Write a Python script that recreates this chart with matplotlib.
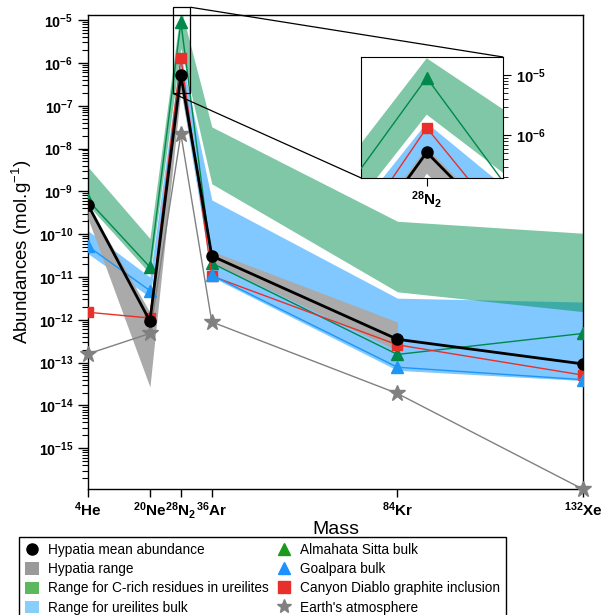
import numpy as np
import matplotlib
matplotlib.use('Agg')
import matplotlib.pyplot as plt
from matplotlib.lines import Line2D
from matplotlib.patches import Patch
from matplotlib.ticker import LogLocator, FixedLocator, FuncFormatter, NullFormatter
from mpl_toolkits.axes_grid1.inset_locator import mark_inset

plt.rcParams['font.family'] = ['Liberation Sans', 'DejaVu Sans']
plt.rcParams['mathtext.fontset'] = 'custom'
plt.rcParams['mathtext.rm'] = 'Liberation Sans'
plt.rcParams['mathtext.bf'] = 'Liberation Sans:bold'
plt.rcParams['mathtext.it'] = 'Liberation Sans:italic'

# ---------------- data ----------------
masses = [4, 20, 28, 36, 84, 132]
tick_labels = [r'$\mathbf{{}^{4}He}$', r'$\mathbf{{}^{20}Ne}$', r'$\mathbf{{}^{28}N_2}$',
               r'$\mathbf{{}^{36}Ar}$', r'$\mathbf{{}^{84}Kr}$', r'$\mathbf{{}^{132}Xe}$']

hyp_mean = [4.8e-10, 9.3e-13, 5.2e-7, 3.1e-11, 3.5e-13, 9.3e-14]
hyp_masses = [4, 20, 28, 36, 84]
hyp_hi = [4.9e-10, 1.5e-12, 6.2e-7, 4.0e-11, 8.9e-13]
hyp_lo = [2.3e-10, 2.7e-14, 2.3e-7, 2.2e-11, 1.9e-13]

crich_hi = [3.7e-9, 7.9e-11, 1.9e-5, 3.2e-8, 2.0e-10, 1.05e-10]
crich_lo = [4.8e-10, 1.2e-11, 2.2e-6, 1.5e-9, 4.5e-12, 1.55e-12]

ubulk_hi = [1.2e-10, 1.0e-11, 1.6e-6, 6.3e-10, 3.2e-12, 2.6e-12]
ubulk_lo = [3.5e-11, 3.4e-12, 2.4e-7, 1.0e-11, 6.6e-14, 3.8e-14]

almahata = [6.2e-10, 1.7e-11, 9.0e-6, 2.1e-11, 1.55e-13, 4.8e-13]
goalpara = [5.2e-11, 4.8e-12, np.nan, 1.1e-11, 7.8e-14, 4.0e-14]
canyon = [1.5e-12, 1.1e-12, 1.33e-6, 1.05e-11, 2.6e-13, 5.1e-14]
earth = [1.6e-13, 4.8e-13, 2.2e-8, 8.9e-13, 1.9e-14, 1.1e-16]

C_GRAY = '#aaaaaa'
C_GREENBAND = '#00904f'
C_BLUEBAND = '#80c8ff'
C_ALM = '#00894a'
C_GOA = '#1e96f5'
C_CAN = '#e8302a'
C_EARTH = '#808080'


def draw(ax, clip):
    ax.fill_between(masses, ubulk_lo, ubulk_hi, color=C_BLUEBAND, lw=0, zorder=1)
    ax.fill_between(masses, crich_lo, crich_hi, color=C_GREENBAND, alpha=0.5, lw=0, zorder=2)
    ax.fill_between(hyp_masses, hyp_lo, hyp_hi, color=C_GRAY, lw=0, zorder=3)
    ax.plot(masses, earth, color=C_EARTH, lw=1, marker='*', ms=12, zorder=4, clip_on=clip)
    ax.plot(masses, almahata, color=C_ALM, lw=1, marker='^', ms=9, zorder=5)
    ax.plot(masses, canyon, color=C_CAN, lw=1, marker='s', ms=7, zorder=6)
    ax.plot(masses, goalpara, color=C_GOA, lw=1, marker='^', ms=9, zorder=7)
    ax.plot(masses, hyp_mean, color='black', lw=2, marker='o', ms=8, zorder=8)


def expfmt(v, pos):
    e = int(np.round(np.log10(v)))
    return r'$\mathbf{10^{%d}}$' % e


fig = plt.figure(figsize=(6.03, 6.15), dpi=100)
ax = fig.add_axes([0.146, 0.205, 0.821, 0.771])
draw(ax, False)
ax.set_yscale('log')
ax.set_xlim(4, 132)
ax.set_ylim(10 ** -15.95, 10 ** -4.876)
ax.yaxis.set_major_locator(LogLocator(base=10, numticks=30))
ax.yaxis.set_minor_locator(LogLocator(base=10, subs=np.arange(2, 10), numticks=100))
ax.yaxis.set_major_formatter(FuncFormatter(expfmt))
ax.yaxis.set_minor_formatter(NullFormatter())
ax.set_yticks([10.0 ** e for e in range(-15, -4)])
ax.set_xticks(masses)
ax.set_xticklabels(tick_labels, fontsize=11)
ax.tick_params(axis='y', which='major', length=7, width=1, labelsize=10.3, direction='out')
ax.tick_params(axis='y', which='minor', length=4, width=0.8, direction='out')
ax.tick_params(axis='x', which='major', length=6, width=1, pad=2, direction='out')
ax.set_xlabel('Mass', fontsize=14, labelpad=0)
ax.set_ylabel(r'Abundances (mol.g$^{\mathregular{-1}}$)', fontsize=13.5, labelpad=3)
for s in ax.spines.values():
    s.set_linewidth(1)

# ---------------- inset ----------------
axins = fig.add_axes([0.599, 0.7106, 0.2355, 0.1967])
draw(axins, True)
axins.set_yscale('log')
axins.set_xlim(25.9, 30.45)
axins.set_ylim(10 ** -6.71, 10 ** -4.70)
axins.yaxis.tick_right()
axins.yaxis.set_major_locator(FixedLocator([1e-6, 1e-5]))
axins.yaxis.set_minor_locator(LogLocator(base=10, subs=np.arange(2, 10), numticks=100))
axins.yaxis.set_major_formatter(FuncFormatter(expfmt))
axins.yaxis.set_minor_formatter(NullFormatter())
axins.set_xticks([28])
axins.set_xticklabels([r'$\mathbf{{}^{28}N_2}$'], fontsize=11)
axins.tick_params(axis='y', which='major', length=6, labelsize=10.5)
axins.tick_params(axis='y', which='minor', length=3.5)
axins.tick_params(axis='x', which='major', length=6, pad=2)

pp, p1, p2 = mark_inset(ax, axins, loc1=1, loc2=3, fc='none', ec='black', lw=0.9)
for a in (pp, p1, p2):
    a.set_clip_on(False)
    a.set_zorder(10)

# ---------------- legend ----------------
handles = [
    Line2D([], [], color='black', marker='o', ls='none', ms=8),
    Patch(facecolor='#9a9a9a', edgecolor='none'),
    Patch(facecolor='#5cb85c', edgecolor='none'),
    Patch(facecolor='#87cefa', edgecolor='none'),
    Line2D([], [], color='#1a9a1a', marker='^', ls='none', ms=8),
    Line2D([], [], color='#1e90ff', marker='^', ls='none', ms=8),
    Line2D([], [], color='#e8302a', marker='s', ls='none', ms=8),
    Line2D([], [], color='#808080', marker='*', ls='none', ms=10),
]
labels = ['Hypatia mean abundance', 'Hypatia range', 'Range for C-rich residues in ureilites',
          'Range for ureilites bulk', 'Almahata Sitta bulk', 'Goalpara bulk',
          'Canyon Diablo graphite inclusion', "Earth's atmosphere"]
leg = fig.legend(handles, labels, ncol=2, loc='upper left', bbox_to_anchor=(0.0315, 0.127),
                 fontsize=9.8, frameon=True, fancybox=False, edgecolor='black',
                 framealpha=1, handlelength=1.0, handleheight=1.0, handletextpad=0.7,
                 columnspacing=0.6, labelspacing=0.38, borderpad=0.45, borderaxespad=0)
leg.get_frame().set_linewidth(1)

fig.savefig('out.png', dpi=100)
